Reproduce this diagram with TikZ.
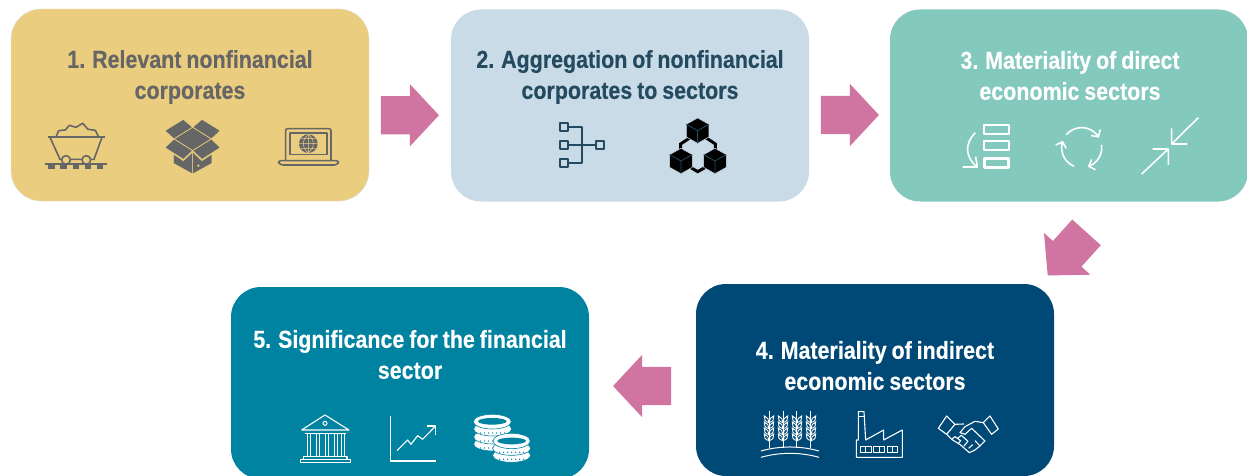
\documentclass[tikz,border=0pt]{standalone}
\usepackage{xcolor}
\usepackage{fontspec}
\usepackage{tikz}
\usetikzlibrary{shapes.arrows, arrows.meta, positioning, calc}
\setmainfont[FakeStretch=0.875, FakeBold=0.25, WordSpace=0.82]{Liberation Sans}
\definecolor{boxyellow}{HTML}{EBCD7F}
\definecolor{boxedge}{HTML}{DCE3E3}
\definecolor{boxblue}{HTML}{C9DBE7}
\definecolor{boxmint}{HTML}{83C9BD}
\definecolor{boxnavy}{HTML}{004976}
\definecolor{boxteal}{HTML}{0082A1}
\definecolor{flowpink}{HTML}{D075A2}
\definecolor{textgray}{HTML}{666666}
\definecolor{textslate}{HTML}{244A60}

% one pixel of the layout is one point; cubes and coins repeat
\newcommand{\cubeicon}[2]{%
  \draw[fill=black, draw=boxblue, line width=0.5pt] (#1,#2-38) -- (#1+34,#2-19) -- (#1+34,#2+19) -- (#1,#2+38) -- (#1-34,#2+19) -- (#1-34,#2-19) -- cycle;
  \draw[textslate, line width=0.8pt] (#1-34,#2-19) -- (#1,#2) -- (#1+34,#2-19) (#1,#2) -- (#1,#2+38);
}
\newcommand{\coinlayer}[2]{%
  \draw[fill=white, draw=boxteal, line width=0.6pt] (#1,#2) ellipse (57 and 21);
  \foreach \dotx in {-36,-24,-12,0,12,24,36} {
    \fill[boxteal] (#1+\dotx,#2+12) circle (2.2);
  }
}

\begin{document}
\begin{tikzpicture}[
    x=1pt, y=-1pt,
    stepbox/.style={rectangle, rounded corners=30pt, fill=#1, minimum width=358pt, minimum height=192pt},
    boxtitle/.style={align=center, font=\fontsize{24.5}{31}\selectfont\bfseries},
    flowarrow/.style={single arrow, fill=flowpink, minimum width=62pt, minimum height=58pt, single arrow head extend=12pt, single arrow tip angle=94, inner xsep=0pt, inner ysep=19pt},
    iconline/.style={draw=#1, line width=1.6pt, line join=round},
    icongroup/.style={x=0.3333pt, y=-0.3333pt}
]
\useasboundingbox (0,0) rectangle (1247,476);

% Boxes
\node[stepbox=boxyellow, draw=boxedge] (box1) at (190,105) {};
\node[stepbox=boxblue] (box2) at (630,105.5) {};
\node[stepbox=boxmint] (box3) at (1069,105.5) {};
\node[stepbox=boxnavy] (box4) at (875,380) {};
\node[stepbox=boxteal] (box5) at (410,383) {};

% Titles
\node[boxtitle, text=textgray] (title1) at (190,77) {1. Relevant nonfinancial\\corporates};
\node[boxtitle, text=textslate] (title2) at (630,77) {2. Aggregation of nonfinancial\\corporates to sectors};
\node[boxtitle, text=white] (title3) at (1070,75.5) {3. Materiality of direct\\economic sectors};
\node[boxtitle, text=white] (title4) at (875,365.5) {4. Materiality of indirect\\economic sectors};
\node[boxtitle, text=white] (title5) at (410,354.5) {5. Significance for the financial\\sector};

% Arrows
\path (box1) -- node[flowarrow, xshift=-9pt, yshift=-10pt] (arrow1) {} (box2);
\path (box2) -- node[flowarrow, xshift=-8.5pt, yshift=-9.5pt] (arrow2) {} (box3);
\path (box3.south) -- node[flowarrow, xshift=11.5pt, yshift=-4.5pt, rotate=228] (arrow3) {} (box4.north east);
\path (box4.west) -- node[flowarrow, xshift=8.5pt, yshift=-4.5pt, rotate=180] (arrow4) {} (box5.east);

% Mine cart
\begin{scope}[icongroup]
\draw[iconline=textgray] (150,412) -- (180,478) -- (282,478) -- (306,412);
\draw[iconline=textgray, line width=2pt] (143,411) -- (314,411);
\draw[iconline=textgray] (168,411) -- (176,392) -- (196,390) -- (208,376) -- (228,382) -- (248,370) -- (264,388) -- (286,391) -- (296,411);
\draw[iconline=textgray, fill=boxyellow] (198,480) circle (13);
\draw[iconline=textgray, fill=boxyellow] (259,480) circle (13);
\draw[iconline=textgray, line width=2pt] (136,493) -- (322,493);
\foreach \railx in {144,181,218,254,290} {
  \fill[textgray] (\railx,493) rectangle (\railx+20,506);
}
\end{scope}

% Open box
\begin{scope}[icongroup]
\foreach \flap in {
  {(495,392) -- (550,358) -- (578,382) -- (522,417) -- cycle},
  {(578,382) -- (606,358) -- (661,392) -- (634,417) -- cycle},
  {(522,417) -- (578,382) -- (634,417) -- (578,452) -- cycle},
  {(522,417) -- (495,443) -- (550,478) -- (578,452) -- cycle},
  {(634,417) -- (661,443) -- (606,478) -- (578,452) -- cycle},
  {(520,462) -- (550,482) -- (578,456) -- (578,522) -- (520,490) -- cycle},
  {(636,462) -- (606,482) -- (578,456) -- (578,522) -- (636,490) -- cycle}} {
  \draw[fill=textgray, draw=boxyellow, line width=0.6pt] \flap;
}
\fill[boxyellow] (595,497) circle (4);
\end{scope}

% Laptop
\begin{scope}[icongroup]
\draw[iconline=textgray, rounded corners=2pt] (857,480) -- (857,386) -- (993,386) -- (993,480);
\draw[iconline=textgray] (870,399) rectangle (981,463);
\draw[iconline=textgray, rounded corners=3pt] (833,482) -- (1018,482) -- (1012,495) -- (840,495) -- cycle;
\fill[textgray] (925,431) circle (28);
\draw[boxyellow, line width=0.5pt] (897,431) -- (953,431) (903,416) -- (947,416) (903,446) -- (947,446) (925,403) -- (925,459)
  (925,403) .. controls (905,420) and (905,442) .. (925,459) (925,403) .. controls (945,420) and (945,442) .. (925,459);
\end{scope}

% Tree of squares
\begin{scope}[shift={(440,0)}, icongroup]
\foreach \sqx/\sqy in {371/381, 371/436, 371/490, 479/436} {
  \draw[iconline=textslate, line width=1.8pt] (\sqx-12,\sqy-12) rectangle (\sqx+12,\sqy+12);
}
\draw[iconline=textslate, line width=1.8pt] (385,381) -- (427,381) -- (427,490) -- (385,490) (385,436) -- (465,436);
\end{scope}

% Linked cubes
\begin{scope}[shift={(440,0)}, icongroup]
\draw[black, line width=3pt] (752,412) -- (722,432) -- (722,452) (796,412) -- (826,432) -- (826,452) (748,500) -- (773,515) -- (800,500);
\cubeicon{773}{392}
\cubeicon{723}{483}
\cubeicon{825}{483}
\end{scope}

% Stacked bars
\begin{scope}[shift={(880,0)}, icongroup]
\draw[iconline=white, line width=2pt] (312,374) rectangle (386,402);
\draw[iconline=white, line width=2pt] (312,422) rectangle (386,449);
\draw[iconline=white, line width=3pt] (312,477) rectangle (386,504);
\draw[iconline=white] (286,398) .. controls (254,430) and (254,470) .. (292,502);
\draw[iconline=white] (248,501) -- (292,501) -- (287,470);
\end{scope}

% Circular arrows
\begin{scope}[shift={(880,0)}, icongroup]
\foreach \arcstart/\arcend in {-140/-30, -8/72, 112/200} {
  \draw[iconline=white, -{Straight Barb[length=5pt,width=11pt]}, domain=\arcstart:\arcend, samples=20, variable=\t]
    plot ({605+60*cos(\t)},{443+60*sin(\t)});
}
\end{scope}

% Inward arrows
\begin{scope}[shift={(880,0)}, icongroup]
\draw[iconline=white] (955,353) -- (875,432) (875,385) -- (875,432) -- (922,432);
\draw[iconline=white] (785,522) -- (865,447) (818,447) -- (865,447) -- (865,495);
\end{scope}

% Wheat
\begin{scope}[shift={(690,280)}, icongroup]
\foreach \stalkx in {237,279,321,363} {
  \draw[white, line width=1pt] (\stalkx,393) -- (\stalkx,503);
  \foreach \leafy in {428,446,464,482} {
    \draw[white, line width=0.9pt] (\stalkx,\leafy) .. controls (\stalkx-13,\leafy-3) and (\stalkx-15,\leafy-11) .. (\stalkx-14,\leafy-20) .. controls (\stalkx-5,\leafy-16) and (\stalkx,\leafy-10) .. cycle;
    \draw[white, line width=0.9pt] (\stalkx,\leafy) .. controls (\stalkx+13,\leafy-3) and (\stalkx+15,\leafy-11) .. (\stalkx+14,\leafy-20) .. controls (\stalkx+5,\leafy-16) and (\stalkx,\leafy-10) .. cycle;
  }
}
\draw[white, line width=1pt] (213,513) .. controls (270,497) and (330,497) .. (387,513);
\draw[white, line width=1pt] (213,532) .. controls (270,516) and (330,516) .. (387,532);
\end{scope}

% Factory
\begin{scope}[shift={(690,280)}, icongroup]
\draw[iconline=white, line width=1.1pt] (499,532) -- (499,480) -- (505,480) -- (505,395) -- (522,395) -- (527,480) -- (581,450) -- (581,480) -- (637,450) -- (637,532) -- cycle;
\draw[white, line width=0.8pt] (505,410) -- (522,410);
\foreach \winx in {511,551,591} {
  \draw[iconline=white, line width=0.9pt] (\winx,500) rectangle (\winx+32,517);
  \draw[white, line width=0.9pt] (\winx+16,500) -- (\winx+16,517);
}
\end{scope}

% Handshake
\begin{scope}[shift={(690,280)}, icongroup]
\draw[iconline=white, line width=1.1pt] (770,408) -- (795,433) -- (770,463) -- (745,445) -- cycle;
\draw[iconline=white, line width=1.1pt] (900,408) -- (925,447) -- (905,463) -- (880,428) -- cycle;
\draw[iconline=white, line width=1.1pt] (795,433) -- (822,432);
\draw[iconline=white, line width=1.1pt] (880,428) -- (855,424) -- (825,440) -- (810,458) -- (825,463) -- (845,445) -- (885,483) -- (870,498);
\draw[iconline=white, line width=1.1pt] (770,463) -- (785,478) -- (812,495) -- (838,518) -- (855,510) -- (870,498) -- (855,482);
\draw[iconline=white, line width=1.1pt] (785,478) -- (795,470) -- (812,482) -- (804,492) (804,474) -- (814,466) -- (834,484) -- (822,498) (836,505) -- (848,494);
\end{scope}

% Bank
\begin{scope}[shift={(225,280)}, icongroup]
\draw[iconline=white, line width=1.1pt] (230,450) -- (300,405) -- (372,450) -- cycle;
\draw[white, line width=1pt] (300,430) circle (6);
\draw[iconline=white, line width=1.1pt] (240,460) -- (362,460);
\foreach \colx in {247,274,301,328,349} {
  \draw[iconline=white, line width=0.9pt] (\colx,460) -- (\colx,530) (\colx+9,460) -- (\colx+9,530);
}
\draw[iconline=white, line width=1.1pt] (236,530) rectangle (366,539);
\draw[iconline=white, line width=1.1pt] (226,539) rectangle (377,547);
\end{scope}

% Chart
\begin{scope}[shift={(225,280)}, icongroup]
\draw[iconline=white, line width=1.1pt] (497,408) -- (497,543) -- (632,543);
\draw[iconline=white, line width=1.1pt] (516,512) -- (548,480) -- (558,493) -- (578,467) -- (593,478) -- (632,438);
\draw[iconline=white, line width=1.1pt] (605,438) -- (632,438) -- (632,465);
\end{scope}

% Coins
\begin{scope}[shift={(225,280)}, icongroup]
\coinlayer{803}{492}
\coinlayer{803}{471}
\coinlayer{803}{447}
\draw[fill=white, draw=boxteal, line width=0.6pt] (802,425) ellipse (57 and 22);
\fill[boxteal] (802,424) ellipse (43 and 10);
\coinlayer{860}{526}
\coinlayer{860}{505}
\draw[fill=white, draw=boxteal, line width=0.6pt] (860,483) ellipse (56 and 23);
\fill[boxteal] (860,483) ellipse (43 and 10);
\end{scope}

\end{tikzpicture}
\end{document}
